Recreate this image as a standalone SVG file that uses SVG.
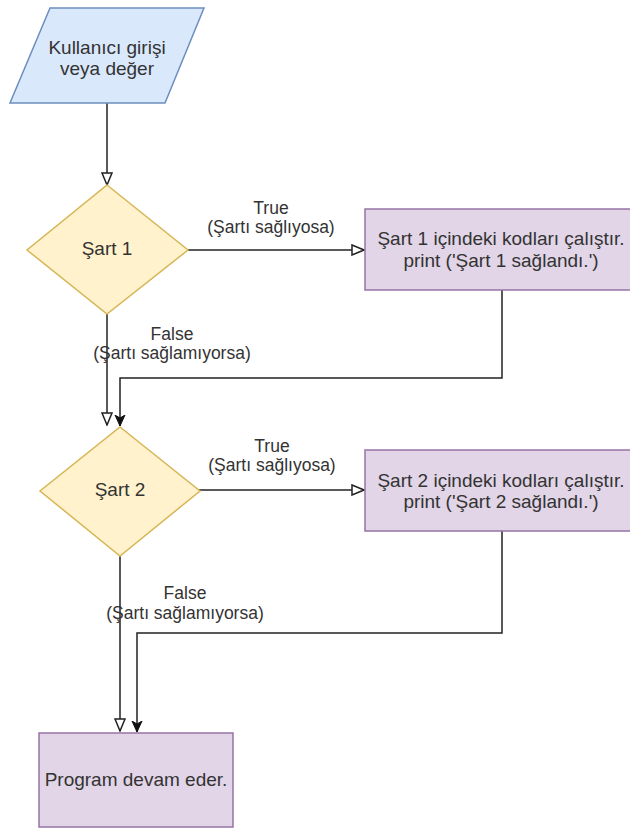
<svg xmlns="http://www.w3.org/2000/svg" width="630" height="829" viewBox="0 0 630 829">
<style>
.t{font-family:"Liberation Sans",Arial,sans-serif;font-size:19px;fill:#333;text-anchor:middle}
.l{font-family:"Liberation Sans",Arial,sans-serif;font-size:17.5px;fill:#333;text-anchor:middle}
.c{fill:none;stroke:#222;stroke-width:1.5}
.io{fill:#dae8fc;stroke:#6c8ebf;stroke-width:1.5}
.dc{fill:#fff2cc;stroke:#d6b656;stroke-width:1.5}
.pr{fill:#e1d5e7;stroke:#9673a6;stroke-width:1.5}
</style>
<defs>
<marker id="open" markerWidth="14" markerHeight="12" refX="13" refY="6" orient="auto" markerUnits="userSpaceOnUse">
<path d="M1,1 L13,6 L1,11 Z" fill="#fff" stroke="#222" stroke-width="1.5"/>
</marker>
<marker id="fill" markerWidth="12" markerHeight="12" refX="11" refY="6" orient="auto" markerUnits="userSpaceOnUse">
<path d="M0,1 L11,6 L0,11 L3,6 Z" fill="#111" stroke="#111" stroke-width="1"/>
</marker>
</defs>
<g id="connectors">
<path class="c" d="M107,103 L107,185" marker-end="url(#open)"/>
<path class="c" d="M188,250 L364,250" marker-end="url(#open)"/>
<path class="c" d="M107,314 L107,425" marker-end="url(#open)"/>
<path class="c" d="M502,290 L502,378 L120,378 L120,426" marker-end="url(#fill)"/>
<path class="c" d="M190,490 L364,490" marker-end="url(#open)"/>
<path class="c" d="M120,556 L120,731" marker-end="url(#open)"/>
<path class="c" d="M502,531 L502,633 L137,633 L137,732" marker-end="url(#fill)"/>
<text class="l" x="271" y="214">True</text>
<text class="l" x="271" y="233">(Şartı sağlıyosa)</text>
<text class="l" x="172" y="340">False</text>
<text class="l" x="172" y="359">(Şartı sağlamıyorsa)</text>
<text class="l" x="272" y="452">True</text>
<text class="l" x="272" y="471">(Şartı sağlıyosa)</text>
<text class="l" x="185" y="599">False</text>
<text class="l" x="185" y="619">(Şartı sağlamıyorsa)</text>
</g>
<g id="input">
<path class="io" d="M50,8 L204,8 L165,103 L10,103 Z"/>
<text class="t" x="107" y="54">Kullanıcı girişi</text>
<text class="t" x="107" y="75">veya değer</text>
</g>
<g id="cond1">
<path class="dc" d="M107,185 L188,250 L107,314 L27,250 Z"/>
<text class="t" x="107" y="255">Şart 1</text>
</g>
<g id="action1">
<rect class="pr" x="365" y="209" width="272" height="81"/>
<text class="t" x="501" y="245">Şart 1 içindeki kodları çalıştır.</text>
<text class="t" x="501" y="267">print ('Şart 1 sağlandı.')</text>
</g>
<g id="cond2">
<path class="dc" d="M120,427 L200,491 L120,556 L40,491 Z"/>
<text class="t" x="120" y="496">Şart 2</text>
</g>
<g id="action2">
<rect class="pr" x="365" y="450" width="272" height="81"/>
<text class="t" x="501" y="487">Şart 2 içindeki kodları çalıştır.</text>
<text class="t" x="501" y="508">print ('Şart 2 sağlandı.')</text>
</g>
<g id="end">
<rect class="pr" x="39" y="733" width="194" height="94"/>
<text class="t" x="136" y="786">Program devam eder.</text>
</g>
</svg>
